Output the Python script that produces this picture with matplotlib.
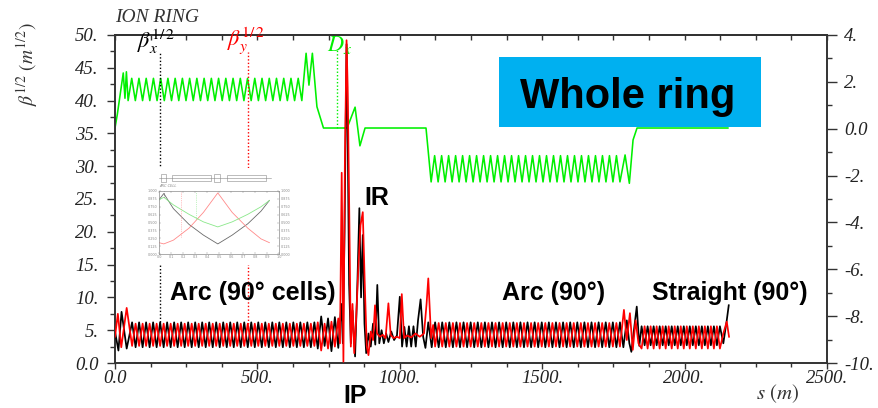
import matplotlib

matplotlib.use("Agg")
import matplotlib.pyplot as plt  # noqa: E402
import numpy as np  # noqa: E402
from matplotlib.patches import Rectangle  # noqa: E402
from matplotlib.ticker import FuncFormatter, MultipleLocator  # noqa: E402

W, H = 879, 408

INK = "#333333"
BLACK = "#000000"
RED = "#ff0000"
GREEN = "#00f000"
CYAN = "#00b0f0"
SERIF = "Liberation Serif"
SANS = "Liberation Sans"

# sqrt(beta) (m^1/2) and Dx (m) against s (m).
# Irregular stretches (ring start, IR, suppressors, ring end) point by point.
BX_HEAD_S = [0, 12, 23, 41]
BX_HEAD = [4.8, 1.9, 7.8, 2.2]
BY_HEAD_S = [0, 10, 22, 41]
BY_HEAD = [4.0, 7.5, 2.4, 8.4]

BX_IR_S = [712, 724, 736, 748, 760, 772, 784, 795, 800, 806,
           813, 817, 822, 828, 834, 843, 851, 858, 864, 870,
           876, 882, 890, 898, 906, 914, 921, 928, 936, 944,
           952, 960, 970, 980, 990, 1000, 1008, 1016, 1024, 1032,
           1040, 1048, 1056, 1064, 1073, 1082, 1090, 1100, 1112]
BX_IR = [2.2, 7.1, 2.6, 6.8, 1.8, 7.0, 2.3, 9.0, 3.0, 20.0,
         48.6, 35.0, 12.0, 3.0, 8.0, 1.0, 12.0, 23.6, 10.0, 19.5,
         6.0, 1.5, 4.5, 2.5, 6.0, 2.8, 11.9, 3.0, 5.0, 3.0,
         4.5, 3.2, 4.8, 3.5, 4.2, 10.1, 2.5, 5.5, 2.5, 5.6,
         2.5, 5.6, 2.5, 6.5, 9.7, 4.0, 2.3, 6.2, 2.4]
BY_IR_S = [712, 724, 736, 748, 760, 772, 784, 790, 796, 802,
           807, 813, 817, 822, 828, 834, 840, 846, 855, 862,
           870, 877, 884, 890, 898, 906, 913, 920, 930, 940,
           950, 960, 968, 978, 990, 1000, 1007, 1015, 1025, 1040,
           1055, 1070, 1085, 1094, 1100, 1110, 1117]
BY_IR = [6.2, 1.9, 6.0, 2.2, 6.3, 2.5, 6.8, 3.0, 29.0, 0.2,
         30.0, 49.2, 42.0, 25.0, 2.5, 9.0, 1.5, 6.0, 15.0, 21.0,
         23.0, 12.0, 2.5, 1.2, 4.8, 3.5, 8.8, 4.5, 4.0, 4.3,
         3.8, 9.1, 4.3, 3.8, 4.0, 3.8, 10.5, 3.8, 4.2, 3.9,
         4.5, 4.0, 4.5, 9.0, 12.9, 3.8, 5.8]

BX_DS_S = [1785, 1797, 1806, 1813, 1822, 1832, 1841]
BX_DS = [2.4, 6.5, 3.0, 1.7, 5.0, 8.6, 2.6]
BY_DS_S = [1787, 1797, 1808, 1818, 1828, 1838]
BY_DS = [8.1, 3.5, 7.6, 2.0, 6.5, 3.0]

BX_TAIL_S = [2136, 2148, 2155]
BX_TAIL = [3.0, 6.5, 8.8]
BY_TAIL_S = [2136, 2148, 2156]
BY_TAIL = [4.5, 6.3, 4.0]

# Regular FODO stretches: arc 1, arc 2, straight.  Per stretch: span, number
# of cells and the max/min read off the zigzag.
ARC_S0 = [60, 1124, 1849]
ARC_S1 = [700, 1773, 2124]
ARC_CELLS = [26, 26, 13]
ARC_BX_HI = [6.2, 6.2, 5.6]
ARC_BX_LO = [2.4, 2.4, 2.7]
ARC_BY_LO = [2.6, 2.5, 2.2]
ARC_BY_HI = [6.0, 6.1, 5.6]

DX_HEAD_S = [0, 8, 29, 35, 40]
DX_HEAD = [0.03, 0.6, 2.38, 1.3, 2.43]
DX_MID_S = [671, 681, 693, 709, 732, 815, 843, 860, 878, 1092]
DX_MID = [3.22, 1.86, 3.22, 0.94, 0.03, 0.03, 0.92, -0.73, 0.03, 0.03]
DX_TAIL_S = [1791, 1806, 1819, 1833, 2152]
DX_TAIL = [-1.12, -2.33, -0.48, 0.03, 0.03]
DX_ARC_S0 = [46, 1110]
DX_ARC_S1 = [656, 1773]
DX_ARC_CELLS = [24, 27]
DX_ARC_LO = [1.2, -2.27]
DX_ARC_HI = [2.15, -1.15]

# dotted markers under the curve labels
MARK_S = [158, 467, 780]

# inset: one arc cell, normalised axes
INSET_U = [0.00, 0.04, 0.12, 0.25, 0.37, 0.49, 0.61, 0.74, 0.85, 0.92]
INSET_BX = [0.86, 0.96, 0.72, 0.47, 0.30, 0.16, 0.30, 0.48, 0.68, 0.85]
INSET_BY = [0.18, 0.16, 0.22, 0.41, 0.66, 0.97, 0.66, 0.41, 0.24, 0.18]
INSET_DX = [0.86, 0.90, 0.78, 0.63, 0.51, 0.43, 0.51, 0.63, 0.75, 0.85]

LEFT_TICKS = np.arange(0, 51, 5)
RIGHT_TICKS = np.arange(-10, 5, 2)
S_TICKS = np.arange(0, 2501, 500)


def zigzag(s0, s1, cells, first, second):
    s = np.linspace(s0, s1, 2 * cells + 1)
    v = np.where(np.arange(2 * cells + 1) % 2 == 0, first, second)
    return s, v


def build(head_s, head, pieces, arcs):
    ss, vv = [np.asarray(head_s, float)], [np.asarray(head, float)]
    for (ps, pv), (a_s, a_v) in zip(pieces, arcs):
        ss += [a_s, np.asarray(ps, float)]
        vv += [a_v, np.asarray(pv, float)]
    return np.concatenate(ss), np.concatenate(vv)


arcs_bx = [zigzag(a, b, n, hi, lo) for a, b, n, hi, lo in
           zip(ARC_S0, ARC_S1, ARC_CELLS, ARC_BX_HI, ARC_BX_LO)]
arcs_by = [zigzag(a, b, n, lo, hi) for a, b, n, lo, hi in
           zip(ARC_S0, ARC_S1, ARC_CELLS, ARC_BY_LO, ARC_BY_HI)]
s_bx, bx = build(BX_HEAD_S, BX_HEAD,
                 [(BX_IR_S, BX_IR), (BX_DS_S, BX_DS), (BX_TAIL_S, BX_TAIL)], arcs_bx)
s_by, by = build(BY_HEAD_S, BY_HEAD,
                 [(BY_IR_S, BY_IR), (BY_DS_S, BY_DS), (BY_TAIL_S, BY_TAIL)], arcs_by)
arcs_dx = [zigzag(a, b, n, lo, hi) for a, b, n, lo, hi in
           zip(DX_ARC_S0, DX_ARC_S1, DX_ARC_CELLS, DX_ARC_LO, DX_ARC_HI)]
s_dx, dx = build(DX_HEAD_S, DX_HEAD,
                 [(DX_MID_S, DX_MID), (DX_TAIL_S, DX_TAIL)], arcs_dx)


def fx(px):
    return px / W


def fy(py):
    return 1 - py / H


def num_label(v, _):
    return "0.0" if v == 0 else f"{v:.0f}."


plt.rcParams["mathtext.fontset"] = "stix"
tick_font = {"family": SERIF, "style": "italic", "size": 13.5}

fig = plt.figure(figsize=(W / 100, H / 100), dpi=100)
ax = fig.add_axes([fx(115), fy(363), 712 / W, 328 / H])
ax2 = ax.twinx()

ax2.plot(s_dx, dx, color=GREEN, lw=1.15, zorder=2)
ax2.vlines(MARK_S[2], 0.03, 3.35, colors=GREEN, linestyles=(0, (1, 1.5)), lw=1.0)
ax.set_zorder(ax2.get_zorder() + 1)
ax.patch.set_visible(False)

ax.plot(s_bx, bx, color=BLACK, lw=1.25, zorder=3)
ax.plot(s_by, by, color=RED, lw=1.25, zorder=4)
ax.vlines(MARK_S[0], 6.2, 47.4, colors=BLACK, linestyles=(0, (1, 1.5)), lw=1.0)
ax.vlines(MARK_S[1], 6.0, 47.4, colors=RED, linestyles=(0, (1, 1.5)), lw=1.0)

ax.set_xlim(0, 2500)
ax.set_ylim(0, 50)
ax2.set_ylim(-10, 4)

ax.set_xticks(S_TICKS)
ax.xaxis.set_minor_locator(MultipleLocator(125))
ax.set_yticks(LEFT_TICKS)
ax.yaxis.set_minor_locator(MultipleLocator(2.5))
ax2.set_yticks(RIGHT_TICKS)
ax2.yaxis.set_minor_locator(MultipleLocator(1))
for a in (ax.xaxis, ax.yaxis, ax2.yaxis):
    a.set_major_formatter(FuncFormatter(num_label))

ax.tick_params(axis="y", which="major", length=5.8, width=1.0, pad=6, colors=INK)
ax.tick_params(axis="y", which="minor", length=3.6, width=1.0, colors=INK)
ax.tick_params(axis="x", which="major", length=4.3, width=1.0, pad=1, colors=INK)
ax.tick_params(axis="x", which="minor", length=3.0, width=1.0, colors=INK)
ax2.tick_params(axis="y", which="major", length=7.2, width=1.0, pad=5, colors=INK)
ax2.tick_params(axis="y", which="minor", length=3.6, width=1.0, colors=INK)
for lab in ax.get_xticklabels() + ax.get_yticklabels() + ax2.get_yticklabels():
    lab.set_fontproperties(tick_font)
    lab.set_color("#222222")

top = ax.secondary_xaxis("top")
top.set_xticks(S_TICKS)
top.xaxis.set_minor_locator(MultipleLocator(125))
top.tick_params(which="both", direction="in", length=3.6, width=1.0,
                labeltop=False, colors=INK)
top.spines["top"].set_color(INK)
top.spines["top"].set_linewidth(1.2)

for a in (ax, ax2):
    for sp in a.spines.values():
        sp.set_color(INK)
        sp.set_linewidth(1.2)

# curve labels
ax.text(77, 46.8, r"$\beta_x^{1/\,2}$", fontsize=16, color=BLACK, va="bottom")
ax.text(393, 46.8, r"$\beta_y^{1/\,2}$", fontsize=16, color=RED, va="bottom")
ax.text(744, 46.8, r"$D_x$", fontsize=16, color=GREEN, va="bottom")

# axis titles
fig.text(fx(115), fy(21.5), "ION RING", family=SERIF, style="italic",
         fontsize=14, color=INK, va="baseline")
fig.text(fx(27), fy(64), r"$\beta^{1/2}\ (m^{1/2})$", rotation=90,
         ha="center", va="center", fontsize=14, color=INK)
fig.text(fx(778), fy(394), r"$s\ (m)$", ha="center", va="center",
         fontsize=15, color=INK)

# annotations
fig.patches.append(Rectangle((fx(499), fy(127)), 262 / W, 70 / H,
                             transform=fig.transFigure, facecolor=CYAN,
                             edgecolor="none", zorder=1))
fig.text(fx(628), fy(108), "Whole ring", family=SANS, weight="bold",
         fontsize=30, ha="center", va="baseline", color="black", zorder=3)
bold = {"family": SANS, "weight": "bold", "fontsize": 18, "color": "black",
        "ha": "center", "va": "baseline", "zorder": 3}
fig.text(fx(253), fy(300), "Arc (90° cells)", **bold)
fig.text(fx(554), fy(300), "Arc (90°)", **bold)
fig.text(fx(730), fy(300), "Straight (90°)", **bold)
fig.text(fx(377), fy(205), "IR", **bold)
fig.text(fx(355), fy(403), "IP", **bold)

# inset: single arc cell
fig.patches.append(Rectangle((fx(140), fy(265)), 152 / W, 97 / H,
                             transform=fig.transFigure, facecolor="white",
                             edgecolor="none", zorder=1.5))
ins = fig.add_axes([fx(159), fy(254), 120 / W, 63 / H], zorder=2)
ins.plot(INSET_U, INSET_BX, color="#6a6a6a", lw=0.6)
ins.plot(INSET_U, INSET_BY, color="#ff8a8a", lw=0.6)
ins.plot(INSET_U, INSET_DX, color="#8ae88a", lw=0.6)
ins.vlines(INSET_U[1], 0.9, 1.0, colors="#6a6a6a", linestyles=":", lw=0.5)
ins.vlines(0.18, 0.27, 1.0, colors="#ff8a8a", linestyles=":", lw=0.5)
ins.vlines(0.31, 0.55, 1.0, colors="#8ae88a", linestyles=":", lw=0.5)
ins.set_xlim(0, 1)
ins.set_ylim(0, 1)
ins.xaxis.set_major_locator(MultipleLocator(0.1))
ins.yaxis.set_major_locator(MultipleLocator(0.125))
ins.tick_params(which="both", direction="in", length=1.2, width=0.3,
                labelsize=2.4, colors="#8a8a8a", pad=1, right=True, top=True,
                labelright=True)
for sp in ins.spines.values():
    sp.set_color("#8a8a8a")
    sp.set_linewidth(0.5)
ins.plot([0, 0.93], [1.206, 1.206], color="#8a8a8a", lw=0.4,
         transform=ins.transAxes, clip_on=False)
for x0, wd, ht in [(0.108, 0.325, 0.095), (0.567, 0.325, 0.095),
                   (0.02, 0.04, 0.13), (0.46, 0.05, 0.13)]:
    ins.add_patch(Rectangle((x0, 1.206 - ht / 2), wd, ht, transform=ins.transAxes,
                            facecolor="white", edgecolor="#8a8a8a", lw=0.4,
                            clip_on=False))
ins.text(0.0, 1.06, "ARC CELL", transform=ins.transAxes, fontsize=2.6,
         color="#8a8a8a", style="italic")

fig.savefig("out.png", dpi=100, facecolor="white")
